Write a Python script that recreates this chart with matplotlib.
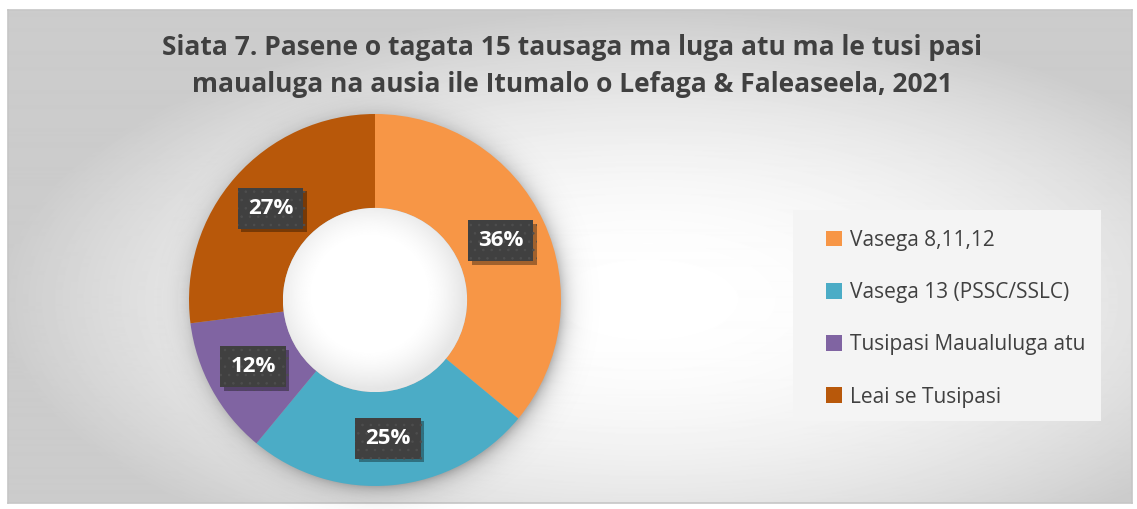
import numpy as np
import matplotlib
matplotlib.use('Agg')
import matplotlib.pyplot as plt
import matplotlib.patheffects as pe
from matplotlib.patches import Rectangle, Circle

# data
categories = ["Vasega 8,11,12", "Vasega 13 (PSSC/SSLC)", "Tusipasi Maualuluga atu", "Leai se Tusipasi"]
shares = [36, 25, 12, 27]
colors = ["#F79646", "#4BACC6", "#8064A2", "#B8580A"]
title = "Siata 7. Pasene o tagata 15 tausaga ma luga atu ma le tusi pasi\nmaualuga na ausia ile Itumalo o Lefaga & Faleaseela, 2021"

W, H = 1137, 509
plt.rcParams['font.family'] = ['Open Sans', 'DejaVu Sans']
plt.rcParams['hatch.linewidth'] = 0.6
fig = plt.figure(figsize=(W / 100, H / 100), dpi=100)
fig.patch.set_facecolor('white')

# radial grey background inside the frame
bg = fig.add_axes([8 / W, 6 / H, (1132 - 8) / W, (499 - 6) / H])
yy, xx = np.mgrid[0:494, 0:1124]
d2 = ((xx - 640) / 560.0) ** 2 + ((yy - 290) / 250.0) ** 2
shade = np.clip(1.0 - 0.15 * d2, 0.80, 1.0)
bg.imshow(shade, cmap='gray', vmin=0, vmax=1, aspect='auto', interpolation='bilinear')
bg.set_xticks([])
bg.set_yticks([])
for s in bg.spines.values():
    s.set_color('#c6c6c6')
    s.set_linewidth(1.2)

# donut
cx, cy, r = 375, 300, 186
ax = fig.add_axes([(cx - r) / W, (H - cy - r) / H, 2 * r / W, 2 * r / H])
ax.set_facecolor('none')

# soft outer shadow behind the ring
g = np.linspace(-1.25, 1.25, 500)
gx, gy = np.meshgrid(g, g[::-1])
rho = np.sqrt((gx - 0.015) ** 2 + (gy + 0.02) ** 2)
alpha = np.where(rho > 0.98, np.exp(-np.clip(rho - 0.98, 0, None) / 0.05), 1.0) * 0.28
sh = np.zeros((500, 500, 4))
sh[..., 3] = alpha
ax.imshow(sh, extent=(-1.25, 1.25, -1.25, 1.25), zorder=0, clip_on=False)

ring_w = 0.505
wedges, _ = ax.pie(shares, colors=colors, startangle=90, counterclock=False,
                   radius=1.0, wedgeprops=dict(width=ring_w, linewidth=0))

# white hole with slight inner shading
hole_r = 1.0 - ring_w
hg = np.linspace(-hole_r, hole_r, 300)
hx, hy = np.meshgrid(hg, hg[::-1])
hr = np.sqrt((hx + 0.03) ** 2 + (hy - 0.03) ** 2) / hole_r
hole = np.clip(1.0 - 0.09 * np.clip(hr - 0.6, 0, None) ** 1.5 / 0.4 ** 1.5, 0.9, 1.0)
im = ax.imshow(hole, cmap='gray', vmin=0, vmax=1, extent=(-hole_r, hole_r, -hole_r, hole_r), zorder=3)
im.set_clip_path(Circle((0, 0), hole_r, transform=ax.transData))
ax.set_xlim(-1, 1)
ax.set_ylim(-1, 1)
ax.axis('off')

mid_r = 1.0 - ring_w / 2
for w, v in zip(wedges, shares):
    ang = np.deg2rad((w.theta1 + w.theta2) / 2)
    x, y = mid_r * np.cos(ang), mid_r * np.sin(ang)
    t = ax.text(x, y, f"{v}%", ha='center', va='center', fontsize=16, fontweight='bold',
                color='white', zorder=5,
                bbox=dict(boxstyle='square,pad=0.45', facecolor='#404040', edgecolor='#4e4e4e',
                          hatch='..', linewidth=0))
    t.get_bbox_patch().set_path_effects([
        pe.SimplePatchShadow(offset=(2.5, -2.5), shadow_rgbFace='black', alpha=0.35),
        pe.Normal()])

fig.text(572 / W, 1 - 66 / H, title, ha='center', va='center', fontsize=19,
         fontweight='bold', color='#404040', linespacing=1.45)

# legend box
fig.patches.append(Rectangle((793 / W, 1 - 421 / H), (1101 - 793) / W, (421 - 210) / H,
                             transform=fig.transFigure, facecolor='#f4f4f4',
                             edgecolor='none', zorder=0.5))
leg = fig.legend(wedges, categories, loc='upper left', bbox_to_anchor=(807 / W, 1 - 211 / H),
                 frameon=False, fontsize=15, labelcolor='#404040', handlelength=0.8,
                 handleheight=0.8, handletextpad=0.35, labelspacing=1.5)

fig.savefig('out.png', dpi=100, facecolor='white')
